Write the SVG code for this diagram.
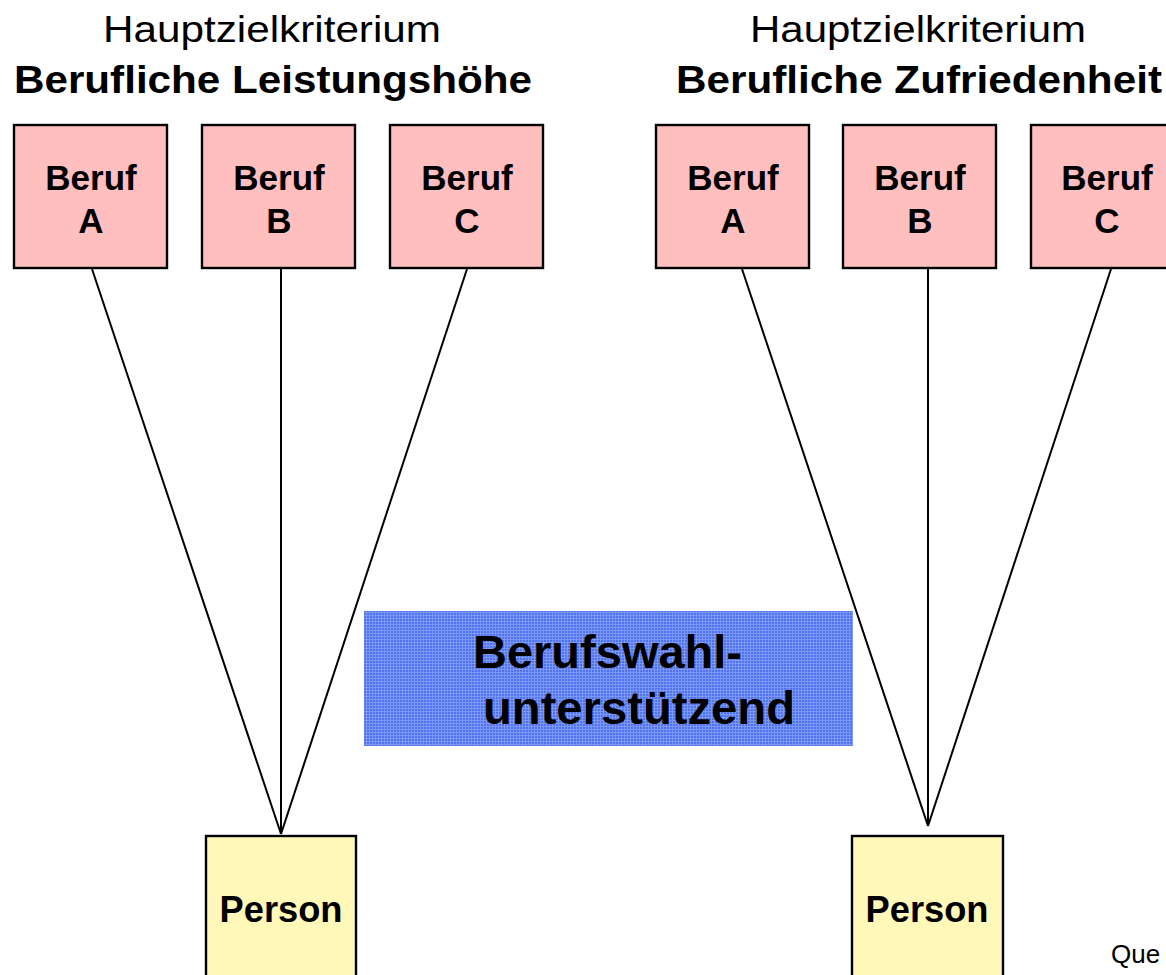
<svg xmlns="http://www.w3.org/2000/svg" width="1166" height="975" viewBox="0 0 1166 975">
<style>
.t{font-family:"Liberation Sans",Arial,sans-serif;fill:#000}
.b{font-weight:bold}
.beruf{fill:#ffbfbf;stroke:#000;stroke-width:2.4}
.person{fill:#fff8b8;stroke:#000;stroke-width:2.4}
.con line{stroke:#000;stroke-width:2}
</style>
<defs>
<pattern id="grid" width="3" height="3" patternUnits="userSpaceOnUse">
<rect width="3" height="3" fill="#4f72ee"/>
<rect width="3" height="1" fill="#7d98f4"/>
<rect width="1" height="3" fill="#7d98f4"/>
</pattern>
</defs>
<rect width="1166" height="975" fill="#fff"/>
<g id="titles">
<text class="t" x="272" y="42" font-size="37" text-anchor="middle" textLength="338" lengthAdjust="spacingAndGlyphs">Hauptzielkriterium</text>
<text class="t b" x="273" y="93" font-size="39" text-anchor="middle" textLength="518" lengthAdjust="spacingAndGlyphs">Berufliche Leistungshöhe</text>
<text class="t" x="918" y="42" font-size="37" text-anchor="middle" textLength="336" lengthAdjust="spacingAndGlyphs">Hauptzielkriterium</text>
<text class="t b" x="919" y="93" font-size="39" text-anchor="middle" textLength="486" lengthAdjust="spacingAndGlyphs">Berufliche Zufriedenheit</text>
</g>
<g id="connectors" class="con">
<line x1="92" y1="269" x2="281" y2="834"/>
<line x1="281" y1="269" x2="281" y2="834"/>
<line x1="467" y1="269" x2="281" y2="834"/>
<line x1="742" y1="269" x2="928" y2="826"/>
<line x1="928" y1="269" x2="928" y2="826"/>
<line x1="1111" y1="269" x2="928" y2="826"/>
</g>
<g id="beruf-l-a"><rect class="beruf" x="14" y="125" width="153" height="143"/><text class="t b" font-size="35" text-anchor="middle"><tspan x="91" y="190">Beruf</tspan><tspan x="91" y="233">A</tspan></text></g>
<g id="beruf-l-b"><rect class="beruf" x="202" y="125" width="153" height="143"/><text class="t b" font-size="35" text-anchor="middle"><tspan x="279" y="190">Beruf</tspan><tspan x="279" y="233">B</tspan></text></g>
<g id="beruf-l-c"><rect class="beruf" x="390" y="125" width="153" height="143"/><text class="t b" font-size="35" text-anchor="middle"><tspan x="467" y="190">Beruf</tspan><tspan x="467" y="233">C</tspan></text></g>
<g id="beruf-r-a"><rect class="beruf" x="656" y="125" width="153" height="143"/><text class="t b" font-size="35" text-anchor="middle"><tspan x="733" y="190">Beruf</tspan><tspan x="733" y="233">A</tspan></text></g>
<g id="beruf-r-b"><rect class="beruf" x="843" y="125" width="153" height="143"/><text class="t b" font-size="35" text-anchor="middle"><tspan x="920" y="190">Beruf</tspan><tspan x="920" y="233">B</tspan></text></g>
<g id="beruf-r-c"><rect class="beruf" x="1031" y="125" width="153" height="143"/><text class="t b" font-size="35" text-anchor="middle"><tspan x="1107" y="190">Beruf</tspan><tspan x="1107" y="233">C</tspan></text></g>
<g id="berufswahl"><rect x="364" y="611" width="489" height="135" fill="url(#grid)"/><text class="t b" font-size="46"><tspan x="473" y="668" textLength="269" lengthAdjust="spacingAndGlyphs">Berufswahl-</tspan><tspan x="483" y="724" textLength="312" lengthAdjust="spacingAndGlyphs">unterstützend</tspan></text></g>
<g id="person-l"><rect class="person" x="206" y="836" width="150" height="150"/><text class="t b" x="281" y="922" font-size="36" text-anchor="middle" textLength="123" lengthAdjust="spacingAndGlyphs">Person</text></g>
<g id="person-r"><rect class="person" x="852" y="836" width="151" height="150"/><text class="t b" x="927" y="922" font-size="36" text-anchor="middle" textLength="123" lengthAdjust="spacingAndGlyphs">Person</text></g>
<g id="quelle"><text class="t" x="1111" y="963" font-size="26">Que</text></g>
</svg>
